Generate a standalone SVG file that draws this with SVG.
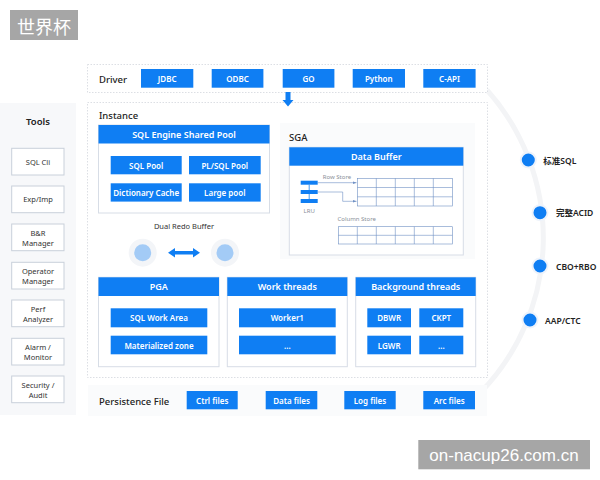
<svg xmlns="http://www.w3.org/2000/svg" width="600" height="480" viewBox="0 0 600 480">
<defs>
<style>
text{font-family:"Noto Sans","Open Sans","Liberation Sans","Noto Sans CJK SC",sans-serif;}
.btn{fill:#0f7ef3;}
.bt{fill:#fff;font-size:8px;font-weight:600;text-anchor:middle;dominant-baseline:central;}
.ht{fill:#fff;font-size:9px;font-weight:600;text-anchor:middle;dominant-baseline:central;}
.panel{fill:#fff;stroke:#d7dde6;stroke-width:1;}
.cont{fill:#fff;stroke:#dcdfe4;stroke-width:1;stroke-dasharray:1.5 1.5;}
.lbl{fill:#222;font-size:9.5px;font-weight:500;dominant-baseline:central;}
.tool{fill:#fff;stroke:#c9d0da;stroke-width:1;}
.tt{fill:#333;font-size:7.5px;text-anchor:middle;dominant-baseline:central;}
.grid{fill:none;stroke:#6f90c4;stroke-width:0.6;}
.small{fill:#8a8f99;font-size:6px;text-anchor:middle;dominant-baseline:central;}
.dot{fill:#0f7ef3;stroke:#eef3fb;stroke-width:2;}
.ft{fill:#222;font-size:8.5px;font-weight:600;dominant-baseline:central;}
</style>
<marker id="ah" viewBox="0 0 4 4" refX="4" refY="2" markerWidth="4" markerHeight="4" orient="auto" markerUnits="userSpaceOnUse"><path d="M0,0.5 L4,2 L0,3.5 Z" fill="#6f90c4"/></marker>
</defs>
<rect width="600" height="480" fill="#fff"/>
<!-- background arc -->
<path d="M 487 90 A 222 222 0 0 1 480 393" fill="none" stroke="#f3f4f6" stroke-width="5"/>

<g id="title">
<rect x="10" y="10" width="68" height="30" fill="#a6a6a6"/>
<text x="44" y="25.5" fill="#fff" font-size="18" text-anchor="middle" dominant-baseline="central" style="font-family:'Noto Sans CJK SC',sans-serif">世界杯</text>
</g>

<g id="tools">
<rect x="0" y="103" width="76" height="312" fill="#f7f8fa"/>
<text x="38" y="121.5" fill="#222" font-size="9.5" font-weight="600" text-anchor="middle" dominant-baseline="central">Tools</text>
<g id="tool-sqlcli"><rect class="tool" x="11.7" y="148.3" width="52.3" height="26.7"/><text class="tt" x="38" y="161.7">SQL Cli</text></g>
<g id="tool-expimp"><rect class="tool" x="11.7" y="186" width="52.3" height="26.7"/><text class="tt" x="38" y="199.4">Exp/Imp</text></g>
<g id="tool-br"><rect class="tool" x="11.7" y="224" width="52.3" height="26.7"/><text class="tt" x="38" y="232.5">B&amp;R</text><text class="tt" x="38" y="242.5">Manager</text></g>
<g id="tool-operator"><rect class="tool" x="11.7" y="262.3" width="52.3" height="26.7"/><text class="tt" x="38" y="270.8">Operator</text><text class="tt" x="38" y="280.8">Manager</text></g>
<g id="tool-perf"><rect class="tool" x="11.7" y="300" width="52.3" height="26.7"/><text class="tt" x="38" y="308.5">Perf</text><text class="tt" x="38" y="318.5">Analyzer</text></g>
<g id="tool-alarm"><rect class="tool" x="11.7" y="338.3" width="52.3" height="26.7"/><text class="tt" x="38" y="346.8">Alarm /</text><text class="tt" x="38" y="356.8">Monitor</text></g>
<g id="tool-security"><rect class="tool" x="11.7" y="376" width="52.3" height="26.7"/><text class="tt" x="38" y="384.5">Security /</text><text class="tt" x="38" y="394.5">Audit</text></g>
</g>

<g id="driver">
<rect class="cont" x="87.5" y="64.5" width="400" height="28"/>
<text class="lbl" x="99" y="79">Driver</text>
<g id="drv-jdbc"><rect class="btn" x="141" y="69" width="52.3" height="18.7"/><text class="bt" x="167.2" y="78.5">JDBC</text></g>
<g id="drv-odbc"><rect class="btn" x="211.7" y="69" width="51.7" height="18.7"/><text class="bt" x="237.5" y="78.5">ODBC</text></g>
<g id="drv-go"><rect class="btn" x="282.7" y="69" width="51.7" height="18.7"/><text class="bt" x="308.5" y="78.5">GO</text></g>
<g id="drv-python"><rect class="btn" x="352.7" y="69" width="52.3" height="18.7"/><text class="bt" x="378.8" y="78.5">Python</text></g>
<g id="drv-capi"><rect class="btn" x="423.3" y="69" width="52.3" height="18.7"/><text class="bt" x="449.5" y="78.5">C-API</text></g>
</g>

<g id="instance">
<rect class="cont" x="87.5" y="102.5" width="400" height="275"/>
<text class="lbl" x="99" y="115">Instance</text>
</g>

<g id="shared-pool">
<rect class="panel" x="98.5" y="125" width="171" height="88"/>
<rect class="btn" x="98.5" y="125" width="171" height="18.5"/>
<text class="ht" x="184" y="134.5">SQL Engine Shared Pool</text>
<g id="sql-pool"><rect class="btn" x="110.7" y="156" width="71" height="18.3"/><text class="bt" x="146.2" y="165.2">SQL Pool</text></g>
<g id="plsql-pool"><rect class="btn" x="189" y="156" width="71.7" height="18.3"/><text class="bt" x="224.8" y="165.2">PL/SQL Pool</text></g>
<g id="dict-cache"><rect class="btn" x="110.7" y="183.3" width="71" height="18.3"/><text class="bt" x="146.2" y="192.5">Dictionary Cache</text></g>
<g id="large-pool"><rect class="btn" x="189" y="183.3" width="71.7" height="18.3"/><text class="bt" x="224.8" y="192.5">Large pool</text></g>
</g>

<g id="redo-buffer">
<text x="184" y="226" fill="#333" font-size="7.5" text-anchor="middle" dominant-baseline="central">Dual Redo Buffer</text>
<circle cx="142.7" cy="252.7" r="14" fill="#f3f5f8"/>
<circle cx="142.7" cy="252.7" r="8.5" fill="#a3cbf6"/>
<circle cx="225" cy="252.7" r="14" fill="#f3f5f8"/>
<circle cx="225" cy="252.7" r="8.5" fill="#a3cbf6"/>
</g>

<g id="sga">
<rect x="280" y="123" width="195" height="136" fill="#fafbfc"/>
<text class="lbl" x="289" y="137" font-weight="600">SGA</text>
<rect class="panel" x="289.3" y="147.3" width="174" height="107.7"/>
<rect class="btn" x="289.3" y="147.3" width="174" height="18.4"/>
<text class="ht" x="376.3" y="156.5">Data Buffer</text>
<rect class="btn" x="300.7" y="180.7" width="17" height="4"/>
<rect class="btn" x="300.7" y="190" width="17" height="4"/>
<rect class="btn" x="300.7" y="199" width="17" height="4"/>
<line x1="309.2" y1="184.7" x2="309.2" y2="199" stroke="#0f7ef3" stroke-width="0.8"/>
<text class="small" x="309.2" y="210.7">LRU</text>
<text class="small" x="337" y="177.3">Row Store</text>
<text class="small" x="356.7" y="218.7">Column Store</text>
<g class="grid">
<rect x="357.3" y="178.3" width="95" height="27.7"/>
<line x1="357.3" y1="187.5" x2="452.3" y2="187.5"/>
<line x1="357.3" y1="196.8" x2="452.3" y2="196.8"/>
<line x1="376.3" y1="178.3" x2="376.3" y2="206"/>
<line x1="395.3" y1="178.3" x2="395.3" y2="206"/>
<line x1="414.3" y1="178.3" x2="414.3" y2="206"/>
<line x1="433.3" y1="178.3" x2="433.3" y2="206"/>
<rect x="338.3" y="226.7" width="114" height="17.3"/>
<line x1="338.3" y1="235.3" x2="452.3" y2="235.3"/>
<line x1="357.3" y1="226.7" x2="357.3" y2="244"/>
<line x1="376.3" y1="226.7" x2="376.3" y2="244"/>
<line x1="395.3" y1="226.7" x2="395.3" y2="244"/>
<line x1="414.3" y1="226.7" x2="414.3" y2="244"/>
<line x1="433.3" y1="226.7" x2="433.3" y2="244"/>
</g>
</g>

<g id="pga">
<rect class="panel" x="98.5" y="277.3" width="120.5" height="89.4"/>
<rect class="btn" x="98.5" y="277.3" width="120.5" height="18.7"/>
<text class="ht" x="158.7" y="286.8">PGA</text>
<g id="sql-work-area"><rect class="btn" x="110.7" y="308.3" width="96.6" height="19"/><text class="bt" x="159" y="317.8">SQL Work Area</text></g>
<g id="materialized-zone"><rect class="btn" x="110.7" y="335.7" width="96.6" height="18.6"/><text class="bt" x="159" y="345">Materialized zone</text></g>
</g>

<g id="work-threads">
<rect class="panel" x="227.3" y="277.3" width="120" height="89.4"/>
<rect class="btn" x="227.3" y="277.3" width="120" height="18.7"/>
<text class="ht" x="287.3" y="286.8">Work threads</text>
<g id="worker1"><rect class="btn" x="239" y="308.3" width="96.7" height="19"/><text class="bt" x="287.3" y="317.8">Worker1</text></g>
<g id="worker-more"><rect class="btn" x="239" y="335.7" width="96.7" height="18.6"/><text class="bt" x="287.3" y="345">...</text></g>
</g>

<g id="background-threads">
<rect class="panel" x="355.7" y="277.3" width="120" height="89.4"/>
<rect class="btn" x="355.7" y="277.3" width="120" height="18.7"/>
<text class="ht" x="415.7" y="286.8">Background threads</text>
<g id="dbwr"><rect class="btn" x="367.3" y="308.3" width="43.7" height="19"/><text class="bt" x="389.2" y="317.8">DBWR</text></g>
<g id="ckpt"><rect class="btn" x="419.3" y="308.3" width="44" height="19"/><text class="bt" x="441.3" y="317.8">CKPT</text></g>
<g id="lgwr"><rect class="btn" x="367.3" y="335.7" width="43.7" height="18.6"/><text class="bt" x="389.2" y="345">LGWR</text></g>
<g id="bg-more"><rect class="btn" x="419.3" y="335.7" width="44" height="18.6"/><text class="bt" x="441.3" y="345">...</text></g>
</g>

<g id="persistence">
<rect x="88" y="385" width="399" height="31" fill="#fafbfc"/>
<text class="lbl" x="99" y="401.7">Persistence File</text>
<g id="ctrl-files"><rect class="btn" x="186.7" y="391" width="51" height="18.3"/><text class="bt" x="212.2" y="400.2">Ctrl files</text></g>
<g id="data-files"><rect class="btn" x="265.7" y="391" width="51.6" height="18.3"/><text class="bt" x="291.5" y="400.2">Data files</text></g>
<g id="log-files"><rect class="btn" x="344.3" y="391" width="51.4" height="18.3"/><text class="bt" x="370" y="400.2">Log files</text></g>
<g id="arc-files"><rect class="btn" x="423.3" y="391" width="51.7" height="18.3"/><text class="bt" x="449.2" y="400.2">Arc files</text></g>
</g>

<g id="features">
<g id="f-sql"><circle class="dot" cx="528.3" cy="160" r="7.5"/><text class="ft" x="543.3" y="160">标准SQL</text></g>
<g id="f-acid"><circle class="dot" cx="540" cy="212.7" r="7.5"/><text class="ft" x="556" y="212.7">完整ACID</text></g>
<g id="f-cbo"><circle class="dot" cx="540" cy="266" r="7.5"/><text class="ft" x="556" y="266">CBO+RBO</text></g>
<g id="f-aap"><circle class="dot" cx="530" cy="320" r="7.5"/><text class="ft" x="545" y="320">AAP/CTC</text></g>
</g>

<g id="connectors">
<polygon points="285.5,92 290.5,92 290.5,100 293.5,100 288,106.5 282.5,100 285.5,100" fill="#0f7ef3"/>
<polygon points="168,252.7 175,248 175,251 193,251 193,248 200,252.7 193,257.4 193,254.4 175,254.4 175,257.4" fill="#0f7ef3"/>
<line x1="317.7" y1="182.7" x2="356.5" y2="182.7" stroke="#6f90c4" stroke-width="0.6" marker-end="url(#ah)"/>
<polyline points="317.7,192 342.7,192 342.7,201.3 356.5,201.3" fill="none" stroke="#6f90c4" stroke-width="0.6" marker-end="url(#ah)"/>
</g>

<g id="watermark">
<rect x="418.3" y="440" width="171.7" height="29.3" fill="#a6a6a6"/>
<text x="504" y="455" fill="#fff" font-size="17" text-anchor="middle" dominant-baseline="central" style="font-family:'Liberation Sans','Noto Sans',sans-serif">on-nacup26.com.cn</text>
</g>
</svg>
